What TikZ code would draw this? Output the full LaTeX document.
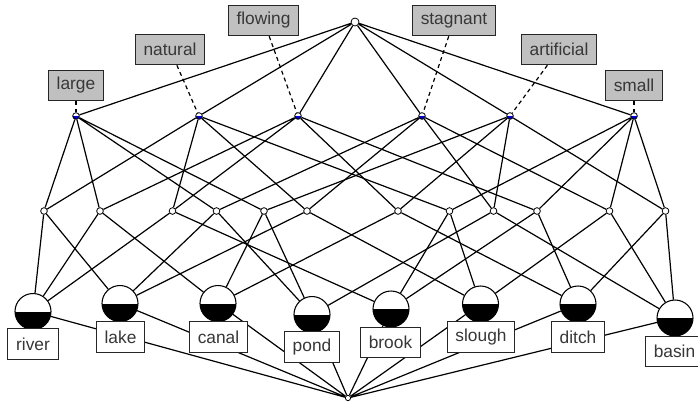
\documentclass[tikz,border=0pt]{standalone}
\usepackage{fontspec}
\setmainfont{Liberation Sans}
\usetikzlibrary{backgrounds}
\definecolor{attrgray}{RGB}{192,192,192}
\definecolor{halfblue}{RGB}{0,0,200}
\definecolor{textgray}{RGB}{55,55,55}
\tikzset{
	dot/.style={circle, draw, fill=white, inner sep=0pt, minimum size=5pt, line width=0.6pt},
	attr/.style={dot, path picture={\fill[halfblue] (path picture bounding box.west) rectangle (path picture bounding box.south east);}},
	obj/.style={circle, draw, fill=white, inner sep=0pt, minimum size=27pt, line width=0.8pt, path picture={\fill[black] (path picture bounding box.west) rectangle (path picture bounding box.south east);}},
	attrlabel/.style={draw=black!85, fill=attrgray, text=textgray, inner xsep=6.3pt, minimum height=23pt, line width=0.7pt, font=\fontsize{13}{15}\selectfont},
	objlabel/.style={attrlabel, fill=white},
	link/.style={line width=0.9pt},
	pointer/.style={line width=0.9pt, dash pattern=on 3pt off 2.5pt}
}

\begin{document}
\begin{tikzpicture}[x=0.75pt, y=-0.75pt]
			%%%%% START %%%%%
			\useasboundingbox (0, 0) rectangle (698, 401);
			
			% top and bottom
			\node[dot, minimum size=6pt] (top) at (355, 22) {};
			\node[dot, minimum size=4pt] (bot) at (348, 398) {};
			
			% attribute concepts
			\node[attr] (lg) at (76, 116) {};
			\node[attr] (nat) at (199, 116) {};
			\node[attr] (flo) at (298, 116) {};
			\node[attr] (sta) at (422, 116) {};
			\node[attr] (art) at (510, 116) {};
			\node[attr] (sml) at (634, 116) {};
			
			\node[attrlabel] (Llg) at (76, 85.5) {large};
			\node[attrlabel] (Lnat) at (170, 49.5) {natural};
			\node[attrlabel] (Lflo) at (263.5, 20.5) {flowing};
			\node[attrlabel] (Lsta) at (454, 20.5) {stagnant};
			\node[attrlabel] (Lart) at (559, 49.5) {artificial};
			\node[attrlabel] (Lsml) at (634, 85.5) {small};
			
			% pairs
			\node[dot] (m1) at (44, 211) {};
			\node[dot] (m2) at (100, 211) {};
			\node[dot] (m3) at (172.5, 211) {};
			\node[dot] (m4) at (216.5, 211) {};
			\node[dot] (m5) at (264, 211) {};
			\node[dot] (m6) at (307, 211) {};
			\node[dot] (m7) at (398, 211) {};
			\node[dot] (m8) at (449.5, 211) {};
			\node[dot] (m9) at (493.5, 211) {};
			\node[dot] (m10) at (537, 211) {};
			\node[dot] (m11) at (609.5, 211) {};
			\node[dot] (m12) at (665.5, 211) {};
			
			% object concepts
			\node[obj] (river) at (33, 311.5) {};
			\node[obj] (lake) at (120, 303.5) {};
			\node[obj] (canal) at (218, 303.5) {};
			\node[obj] (pond) at (312, 314.5) {};
			\node[obj] (brook) at (391, 309) {};
			\node[obj] (slough) at (480.5, 304) {};
			\node[obj] (ditch) at (578, 304) {};
			\node[obj] (basin) at (675, 318) {};
			
			\node[objlabel] (Lriver) at (33, 344) {river};
			\node[objlabel] (Llake) at (120.5, 337) {lake};
			\node[objlabel] (Lcanal) at (218.5, 337) {canal};
			\node[objlabel] (Lpond) at (312, 347) {pond};
			\node[objlabel] (Lbrook) at (390.5, 342.5) {brook};
			\node[objlabel] (Lslough) at (481, 337) {slough};
			\node[objlabel] (Lditch) at (578, 337) {ditch};
			\node[objlabel] (Lbasin) at (674.5, 351.5) {basin};
			
			\begin{scope}[on background layer]
			\draw[pointer] (Llg) -- (lg);
			\draw[pointer] (Lnat) -- (nat);
			\draw[pointer] (Lflo) -- (flo);
			\draw[pointer] (Lsta) -- (sta);
			\draw[pointer] (Lart) -- (art);
			\draw[pointer] (Lsml) -- (sml);
			
			\draw[link] (top) -- (lg) (top) -- (nat) (top) -- (flo) (top) -- (sta) (top) -- (art) (top) -- (sml);
			
			\draw[link] (lg) -- (m1) (lg) -- (m2) (lg) -- (m4) (lg) -- (m5);
			\draw[link] (nat) -- (m1) (nat) -- (m3) (nat) -- (m6) (nat) -- (m8);
			\draw[link] (flo) -- (m2) (flo) -- (m3) (flo) -- (m7) (flo) -- (m10);
			\draw[link] (sta) -- (m4) (sta) -- (m6) (sta) -- (m9) (sta) -- (m11);
			\draw[link] (art) -- (m5) (art) -- (m7) (art) -- (m9) (art) -- (m12);
			\draw[link] (sml) -- (m8) (sml) -- (m10) (sml) -- (m11) (sml) -- (m12);
			
			\draw[link] (m1) -- (river) (m1) -- (lake);
			\draw[link] (m2) -- (river) (m2) -- (canal);
			\draw[link] (m3) -- (river) (m3) -- (brook);
			\draw[link] (m4) -- (lake) (m4) -- (pond);
			\draw[link] (m5) -- (canal) (m5) -- (pond);
			\draw[link] (m6) -- (lake) (m6) -- (slough);
			\draw[link] (m7) -- (canal) (m7) -- (ditch);
			\draw[link] (m8) -- (brook) (m8) -- (slough);
			\draw[link] (m9) -- (pond) (m9) -- (basin);
			\draw[link] (m10) -- (brook) (m10) -- (ditch);
			\draw[link] (m11) -- (slough) (m11) -- (basin);
			\draw[link] (m12) -- (ditch) (m12) -- (basin);
			
			\draw[link] (river) -- (bot) (lake) -- (bot) (canal) -- (bot) (pond) -- (bot);
			\draw[link] (brook) -- (bot) (slough) -- (bot) (ditch) -- (bot) (basin) -- (bot);
			\end{scope}
			%%%%% END %%%%%
\end{tikzpicture}
\end{document}
